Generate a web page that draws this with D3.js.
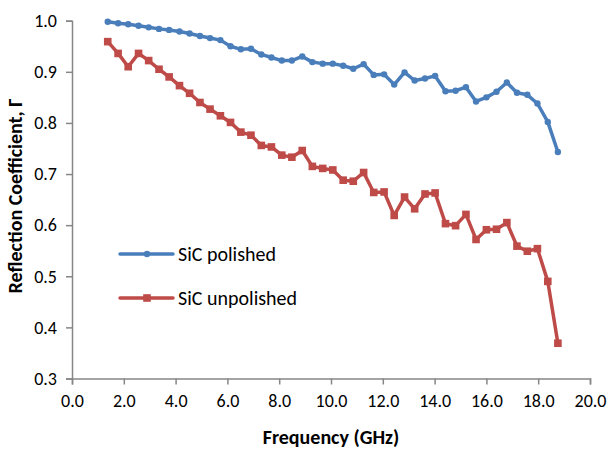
<!DOCTYPE html>
<html>
<head>
<meta charset="utf-8">
<script src="https://cdn.jsdelivr.net/npm/d3@7"></script>
<style>
  body { margin: 0; background: #fff; }
  text { font-family: Carlito, Lato, "Open Sans", sans-serif; fill: #000; }
</style>
</head>
<body>
<svg width="609" height="450"></svg>
<script>
// frequency points (GHz)
var freq = [1.38, 1.78, 2.17, 2.57, 2.96, 3.36, 3.75, 4.15, 4.54, 4.94,
            5.33, 5.73, 6.12, 6.52, 6.91, 7.31, 7.70, 8.10, 8.49, 8.89,
            9.28, 9.68, 10.07, 10.47, 10.86, 11.26, 11.65, 12.05, 12.44, 12.84,
            13.23, 13.63, 14.02, 14.42, 14.81, 15.21, 15.60, 16.00, 16.39, 16.79,
            17.18, 17.58, 17.97, 18.37, 18.76];

var polished = [0.998, 0.995, 0.993, 0.990, 0.987, 0.984, 0.982, 0.979, 0.975, 0.970,
                0.966, 0.962, 0.950, 0.944, 0.945, 0.934, 0.928, 0.922, 0.922, 0.930,
                0.919, 0.916, 0.916, 0.912, 0.906, 0.915, 0.894, 0.895, 0.875, 0.899,
                0.883, 0.887, 0.892, 0.862, 0.863, 0.870, 0.842, 0.850, 0.861, 0.879,
                0.859, 0.855, 0.838, 0.802, 0.743];

var unpolished = [0.959, 0.936, 0.910, 0.936, 0.922, 0.905, 0.890, 0.873, 0.858, 0.840,
                  0.827, 0.814, 0.801, 0.782, 0.776, 0.756, 0.753, 0.737, 0.733, 0.746,
                  0.715, 0.711, 0.708, 0.688, 0.686, 0.703, 0.664, 0.665, 0.619, 0.655,
                  0.632, 0.661, 0.663, 0.603, 0.599, 0.621, 0.572, 0.591, 0.592, 0.605,
                  0.559, 0.549, 0.554, 0.490, 0.369];

var xTicks = [0, 2, 4, 6, 8, 10, 12, 14, 16, 18, 20];
var yTicks = [0.3, 0.4, 0.5, 0.6, 0.7, 0.8, 0.9, 1.0];

var svg = d3.select("svg");
var axisColor = "#868686";

var x = d3.scaleLinear().domain([0, 20]).range([72, 590]);
var y = d3.scaleLinear().domain([0.3, 1.0]).range([378.5, 20.7]);

// axes
var gx = svg.append("g")
    .attr("transform", "translate(0," + y(0.3) + ")")
    .call(d3.axisBottom(x).tickValues(xTicks).tickSize(6).tickPadding(10)
      .tickFormat(d3.format(".1f")));
var gy = svg.append("g")
    .attr("transform", "translate(" + x(0) + ",0)")
    .call(d3.axisLeft(y).tickValues(yTicks).tickSize(6).tickPadding(9)
      .tickFormat(d3.format(".1f")));

[gx, gy].forEach(function(g) {
  g.selectAll("path.domain").attr("stroke", axisColor).attr("stroke-width", 1.5);
  g.selectAll(".tick line").attr("stroke", axisColor).attr("stroke-width", 1.5);
  g.selectAll(".tick text").style("font-size", "18px").attr("fill", "#000");
});

// axis titles
svg.append("text")
    .attr("x", 331).attr("y", 444)
    .attr("text-anchor", "middle")
    .style("font-size", "20px").style("font-weight", "bold")
    .text("Frequency (GHz)");
svg.append("text")
    .attr("transform", "translate(22,196) rotate(-90)")
    .attr("text-anchor", "middle")
    .style("font-size", "20px").style("font-weight", "bold")
    .text("Reflection Coefficient, Γ");

var series = [
  {name: "SiC polished", values: polished, color: "#4A7EBB", marker: "circle"},
  {name: "SiC unpolished", values: unpolished, color: "#BE4B48", marker: "square"}
];

var line = d3.line()
    .x(function(d) { return x(d[0]); })
    .y(function(d) { return y(d[1]); });

series.forEach(function(s) {
  var pts = freq.map(function(f, i) { return [f, s.values[i]]; });
  svg.append("path")
      .datum(pts)
      .attr("fill", "none")
      .attr("stroke", s.color)
      .attr("stroke-width", 3.5)
      .attr("stroke-linejoin", "round")
      .attr("d", line);
  if (s.marker == "circle") {
    svg.append("g").selectAll("circle")
      .data(pts)
      .enter().append("circle")
        .attr("cx", function(d) { return x(d[0]); })
        .attr("cy", function(d) { return y(d[1]); })
        .attr("r", 3.2)
        .attr("fill", s.color);
  } else {
    svg.append("g").selectAll("rect")
      .data(pts)
      .enter().append("rect")
        .attr("x", function(d) { return x(d[0]) - 3.8; })
        .attr("y", function(d) { return y(d[1]) - 3.8; })
        .attr("width", 7.6).attr("height", 7.6)
        .attr("fill", s.color);
  }
});

// legend
var legend = svg.append("g");
series.forEach(function(s, i) {
  var ly = 254 + i * 44;
  legend.append("line")
      .attr("x1", 120).attr("x2", 173)
      .attr("y1", ly).attr("y2", ly)
      .attr("stroke", s.color).attr("stroke-width", 3.5)
      .attr("stroke-linecap", "round");
  if (s.marker == "circle") {
    legend.append("circle").attr("cx", 147).attr("cy", ly).attr("r", 3.2).attr("fill", s.color);
  } else {
    legend.append("rect").attr("x", 143.2).attr("y", ly - 3.8)
        .attr("width", 7.6).attr("height", 7.6).attr("fill", s.color);
  }
  legend.append("text")
      .attr("x", 178).attr("y", ly + 7)
      .style("font-size", "20px")
      .text(s.name);
});
</script>
</body>
</html>
